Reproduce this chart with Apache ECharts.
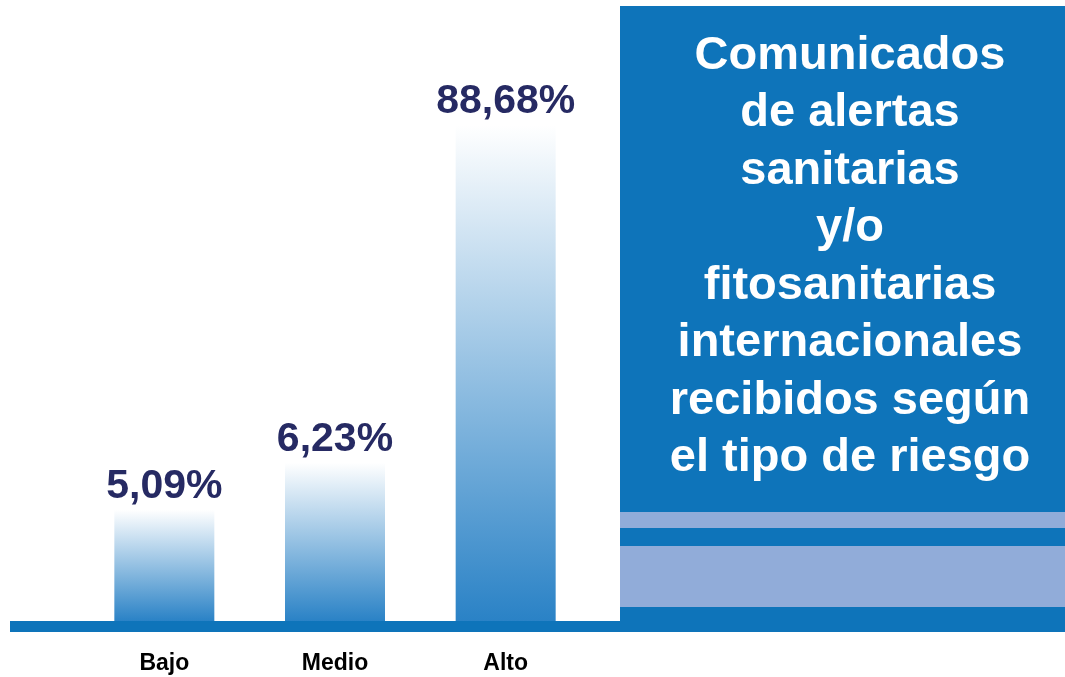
<!DOCTYPE html>
<html>
<head>
<meta charset="utf-8">
<script src="https://cdn.jsdelivr.net/npm/echarts@6/dist/echarts.min.js"></script>
<style>
  html, body { margin: 0; padding: 0; background: #fff; }
  #chart { width: 1065px; height: 677px; }
</style>
</head>
<body>
<div id="chart"></div>
<script>
// categories and the percentages printed above each bar
const riesgo = ["Bajo", "Medio", "Alto"];
const porcentaje = [5.09, 6.23, 88.68];
// bar length as drawn in the picture (not proportional to the labels)
const largoBarra = [19.9, 28.3, 88.68];

const titulo = [
  "Comunicados",
  "de alertas",
  "sanitarias",
  "y/o",
  "fitosanitarias",
  "internacionales",
  "recibidos según",
  "el tipo de riesgo"
];

const azul = "#0e74ba";
const azulClaro = "#91acd9";
const fuente = "Liberation Sans, Arial, sans-serif";

const myChart = echarts.init(document.getElementById("chart"));

let option = {
  animation: false,
  grid: {
    left: 79,
    right: 474,
    top: 62,
    bottom: 56
  },
  xAxis: {
    type: "category",
    data: riesgo,
    axisLine: { show: false },
    axisTick: { show: false },
    axisLabel: {
      margin: 31,
      color: "#000",
      fontFamily: fuente,
      fontWeight: "bold",
      fontSize: 23
    }
  },
  yAxis: {
    type: "value",
    min: 0,
    max: 100,
    show: false,
    splitLine: { show: false }
  },
  graphic: [
    {
      type: "rect",
      z: 1,
      shape: { x: 620, y: 6, width: 445, height: 626 },
      style: { fill: azul }
    },
    {
      type: "rect",
      z: 2,
      shape: { x: 620, y: 512, width: 445, height: 16 },
      style: { fill: azulClaro }
    },
    {
      type: "rect",
      z: 2,
      shape: { x: 620, y: 546, width: 445, height: 61 },
      style: { fill: azulClaro }
    },
    {
      type: "rect",
      z: 2,
      shape: { x: 10, y: 621, width: 1055, height: 11 },
      style: { fill: azul }
    },
    {
      type: "text",
      z: 3,
      x: 850,
      y: 27,
      style: {
        text: titulo.join("\n"),
        fill: "#fff",
        font: "bold 47px " + fuente,
        textAlign: "center",
        lineHeight: 57.5
      }
    }
  ],
  series: [
    {
      type: "bar",
      barWidth: 100,
      data: largoBarra,
      itemStyle: {
        color: new echarts.graphic.LinearGradient(0, 0, 0, 1, [
          { offset: 0, color: "#ffffff" },
          { offset: 1, color: "#2a82c6" }
        ])
      },
      label: {
        show: true,
        position: "top",
        distance: 3,
        color: "#262a63",
        fontFamily: fuente,
        fontWeight: "bold",
        fontSize: 41,
        formatter: p => porcentaje[p.dataIndex].toFixed(2).replace(".", ",") + "%"
      }
    }
  ]
};
myChart.setOption(option);
</script>
</body>
</html>
